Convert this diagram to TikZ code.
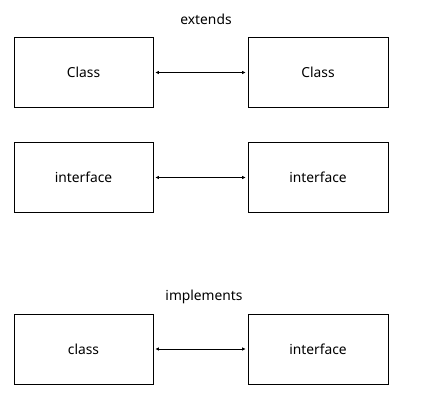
\documentclass[tikz,border=0pt]{standalone}
\usepackage{fontspec}
\setmainfont{Noto Sans}
\usetikzlibrary{shapes, arrows.meta}

\begin{document}
\begin{tikzpicture}[x=1pt, y=-1pt, font=\fontsize{13.8}{16}\selectfont, line width=0.8pt]

    \useasboundingbox (0, 0) rectangle (421, 406);
    % Boxes
    \node[rectangle, draw, minimum width=139pt, minimum height=70pt] (c1) at (83.5, 72.5) {Class};
    \node[rectangle, draw, minimum width=140pt, minimum height=70pt] (c2) at (318, 72.5) {Class};
    \node[rectangle, draw, minimum width=139pt, minimum height=70pt] (i1) at (83.5, 177.5) {interface};
    \node[rectangle, draw, minimum width=140pt, minimum height=70pt] (i2) at (318, 177.5) {interface};
    \node[rectangle, draw, minimum width=139pt, minimum height=70pt] (k1) at (83.5, 349) {class};
    \node[rectangle, draw, minimum width=140pt, minimum height=70pt] (k2) at (318, 349) {interface};
    % Labels
    \node (ext) at (206, 19) {extends};
    \node (imp) at (204, 297) {implements};
    % Arrows
    \draw[{Latex[length=3.5pt, width=3.5pt]}-{Latex[length=3.5pt, width=3.5pt]}, shorten <=2pt, shorten >=2pt] (c1) -- (c2); % extends
    \draw[{Latex[length=3.5pt, width=3.5pt]}-{Latex[length=3.5pt, width=3.5pt]}, shorten <=2pt, shorten >=2pt] (i1) -- (i2);
    \draw[{Latex[length=3.5pt, width=3.5pt]}-{Latex[length=3.5pt, width=3.5pt]}, shorten <=2pt, shorten >=2pt] (k1) -- (k2); % implements
\end{tikzpicture}
\end{document}
